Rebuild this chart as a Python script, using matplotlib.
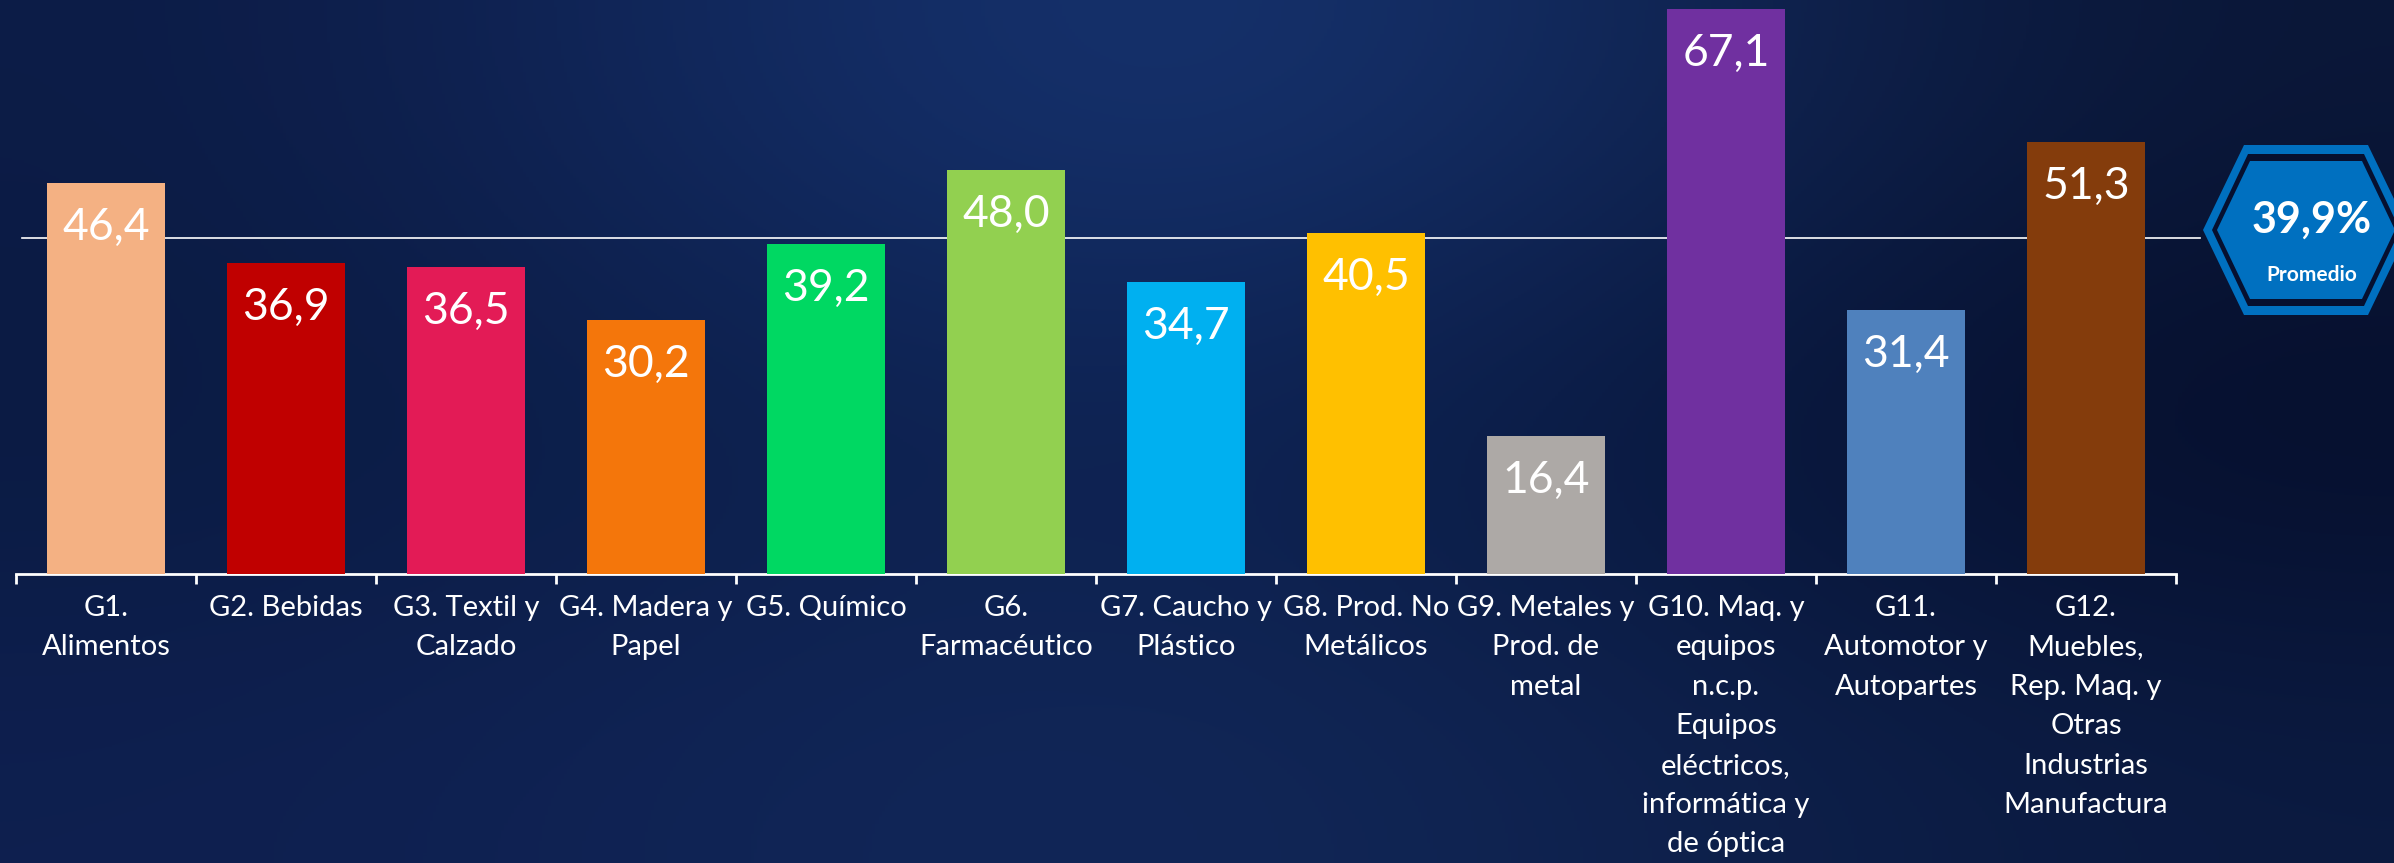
import matplotlib.pyplot as plt
import numpy as np
from matplotlib.colors import to_rgb
from matplotlib.patches import Polygon

plt.rcParams["font.family"] = ["Lato", "DejaVu Sans"]

# data
labels = [
    "G1.\nAlimentos",
    "G2. Bebidas",
    "G3. Textil y\nCalzado",
    "G4. Madera y\nPapel",
    "G5. Químico",
    "G6.\nFarmacéutico",
    "G7. Caucho y\nPlástico",
    "G8. Prod. No\nMetálicos",
    "G9. Metales y\nProd. de\nmetal",
    "G10. Maq. y\nequipos\nn.c.p.\nEquipos\neléctricos,\ninformática y\nde óptica",
    "G11.\nAutomotor y\nAutopartes",
    "G12.\nMuebles,\nRep. Maq. y\nOtras\nIndustrias\nManufactura",
]
values = [46.4, 36.9, 36.5, 30.2, 39.2, 48.0, 34.7, 40.5, 16.4, 67.1, 31.4, 51.3]
average = 39.9

colors = ["#F4B183", "#C00000", "#E31B56", "#F4760B", "#00D862", "#92D050",
          "#00B0F0", "#FFC000", "#ADA9A6", "#7030A0", "#4F81BD", "#843C0C"]

W, H, DPI = 2394, 863, 100
fig = plt.figure(figsize=(W / DPI, H / DPI), dpi=DPI)

# background gradient
bg = fig.add_axes([0, 0, 1, 1])
grid = np.array([
    [to_rgb(c) for c in ["#0C1B45", "#1A3C80", "#0A1636"]],
    [to_rgb(c) for c in ["#0A1A40", "#0E2558", "#040C28"]],
    [to_rgb(c) for c in ["#0E1F4F", "#132B5E", "#0B1A40"]],
])
bg.imshow(grid, aspect="auto", interpolation="bicubic", extent=[0, 1, 0, 1])
bg.set_xlim(0, 1)
bg.set_ylim(0, 1)
bg.axis("off")

# main axes
base_px = 574
px_per_unit = 8.42
ax = fig.add_axes([16 / W, (H - base_px) / H, (2176 - 16) / W, base_px / H])
ax.patch.set_alpha(0)
x = np.arange(len(values))
ax.bar(x, values, width=0.66, color=colors, zorder=3)
ax.set_xlim(-0.5, len(values) - 0.5)
ax.set_ylim(0, base_px / px_per_unit)

for xi, v in zip(x, values):
    ax.annotate(f"{v:.1f}".replace(".", ","), (xi, v), xytext=(0, -32),
                textcoords="offset points", ha="center", va="center",
                color="white", fontsize=32, zorder=4)

# average line across the chart up to the badge
ax.axhline(average, xmin=(22 - 16) / (2176 - 16), xmax=(2200 - 16) / (2176 - 16),
           color="white", lw=1.2, zorder=2, clip_on=False)

for s in ["top", "right", "left"]:
    ax.spines[s].set_visible(False)
ax.spines["bottom"].set_color("white")
ax.spines["bottom"].set_linewidth(2)
ax.set_yticks([])
ax.set_xticks(np.arange(-0.5, len(values), 1.0))
ax.set_xticklabels([])
ax.set_xticks(x, minor=True)
ax.set_xticklabels(labels, minor=True, color="white", fontsize=21,
                   linespacing=1.64, va="top")
ax.tick_params(axis="x", which="major", direction="out", length=7, width=2,
               color="white")
ax.tick_params(axis="x", which="minor", length=0, pad=15)

# hexagon badge
cx, cy = 2306, 230


def hexagon(hh, dx, w):
    pts = [(cx - w - dx, cy), (cx - w, cy + hh), (cx + w, cy + hh),
           (cx + w + dx, cy), (cx + w, cy - hh), (cx - w, cy - hh)]
    return [(px / W, (H - py) / H) for px, py in pts]


fig.patches.append(Polygon(hexagon(85, 41, 62), closed=True, transform=fig.transFigure,
                           facecolor="#0070C0", edgecolor="none", zorder=5))
fig.patches.append(Polygon(hexagon(76, 36, 58), closed=True, transform=fig.transFigure,
                           facecolor="#061030", edgecolor="none", zorder=6))
fig.patches.append(Polygon(hexagon(69, 33, 56), closed=True, transform=fig.transFigure,
                           facecolor="#0070C0", edgecolor="none", zorder=7))
fig.text(2312 / W, (H - 220) / H, "39,9%", color="white", fontsize=31,
         fontweight="bold", ha="center", va="center", zorder=8)
fig.text(2312 / W, (H - 275) / H, "Promedio", color="white", fontsize=15,
         fontweight="bold", ha="center", va="center", zorder=8)

plt.savefig("out.png", dpi=DPI)
plt.close(fig)
